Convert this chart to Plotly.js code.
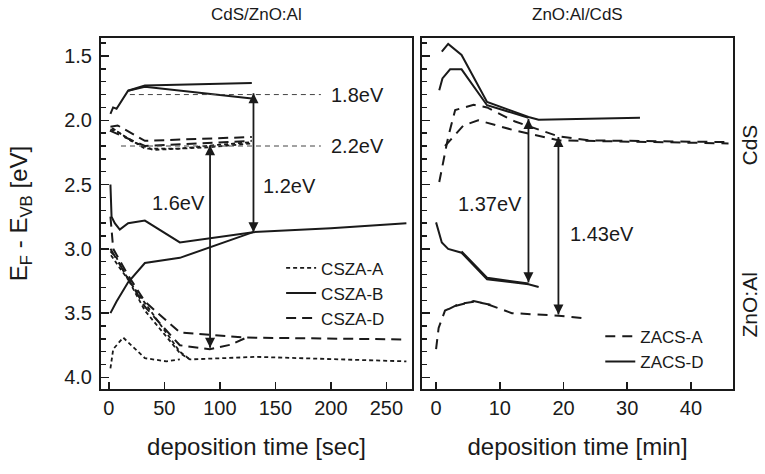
<!DOCTYPE html>
<html>
<head>
<meta charset="utf-8">
<script src="https://cdn.plot.ly/plotly-3.0.1.min.js"></script>
<style>html,body{margin:0;padding:0;background:#fff;}#chart{width:765px;height:474px;}</style>
</head>
<body>
<div id="chart"></div>
<script>
// ---------- Left panel: CdS/ZnO:Al, deposition time [sec] ----------
const cszaA_up1_x = [1.5, 8, 32.5, 64, 100, 129];
const cszaA_up1_y = [2.07, 2.09, 2.22, 2.22, 2.19, 2.17];
const cszaA_up2_x = [3, 20, 40, 90, 129];
const cszaA_up2_y = [2.06, 2.16, 2.23, 2.21, 2.18];
const cszaA_lo1_x = [1.5, 7, 32.5, 64, 73, 133, 268];
const cszaA_lo1_y = [3.02, 3.07, 3.48, 3.81, 3.86, 3.84, 3.875];
const cszaA_lo2_x = [1.5, 4, 13, 32.5, 52, 64];
const cszaA_lo2_y = [3.93, 3.78, 3.69, 3.85, 3.875, 3.86];
const cszaA_lo3_x = [2, 10, 32.5, 64, 73];
const cszaA_lo3_y = [3.05, 3.15, 3.42, 3.80, 3.86];

const cszaB_up1_x = [1.5, 3.9, 7, 17.4, 32.5, 128.8];
const cszaB_up1_y = [1.95, 1.90, 1.91, 1.77, 1.73, 1.71];
const cszaB_up2_x = [17.4, 32.5, 128.8];
const cszaB_up2_y = [1.77, 1.74, 1.83];
const cszaB_lo1_x = [1.5, 2.5, 5.4, 9.9, 17.4, 32.5, 64, 130, 200, 268];
const cszaB_lo1_y = [2.50, 2.75, 2.80, 2.85, 2.80, 2.78, 2.95, 2.87, 2.84, 2.80];
const cszaB_lo2_x = [1.5, 7, 17.4, 32.5, 64, 130];
const cszaB_lo2_y = [3.50, 3.41, 3.26, 3.11, 3.07, 2.87];

const cszaD_up1_x = [1.5, 8, 32.5, 128.8];
const cszaD_up1_y = [2.05, 2.04, 2.16, 2.13];
const cszaD_up2_x = [1, 32.5, 128.8];
const cszaD_up2_y = [2.08, 2.20, 2.16];
const cszaD_lo1_x = [1.5, 4, 17, 32.5, 64, 91, 124, 268];
const cszaD_lo1_y = [2.75, 3.0, 3.2, 3.41, 3.65, 3.67, 3.69, 3.705];
const cszaD_lo2_x = [1.5, 32.5, 64, 91, 110, 124];
const cszaD_lo2_y = [3.0, 3.45, 3.75, 3.78, 3.745, 3.69];

// ---------- Right panel: ZnO:Al/CdS, deposition time [min] ----------
const zacsA_up1_x = [0.5, 1.9, 3.0, 5.9, 8, 12.4, 19.2, 23.9, 45.9];
const zacsA_up1_y = [2.48, 2.13, 1.92, 1.88, 1.90, 2.01, 2.125, 2.156, 2.17];
const zacsA_up2_x = [1.4, 4.3, 6.6, 12.4, 19.2, 45.9];
const zacsA_up2_y = [2.20, 2.04, 2.00, 2.08, 2.156, 2.18];
const zacsA_lo1_x = [0, 0.4, 1.4, 3.0, 5.9, 8, 11.9, 19.2, 23.4];
const zacsA_lo1_y = [3.78, 3.615, 3.48, 3.445, 3.406, 3.43, 3.50, 3.52, 3.54];
const zacsA_lo2_x = [1.9, 3.5, 6, 9];
const zacsA_lo2_y = [3.47, 3.43, 3.41, 3.44];

const zacsD_up1_x = [0.9, 1.9, 4.0, 8.0, 14.5, 16.1, 32];
const zacsD_up1_y = [1.466, 1.406, 1.492, 1.857, 1.974, 1.995, 1.98];
const zacsD_up2_x = [0.5, 1.0, 2.2, 4.0, 8.0, 14.5];
const zacsD_up2_y = [1.766, 1.674, 1.604, 1.604, 1.883, 1.98];
const zacsD_lo1_x = [0, 0.9, 1.9, 4.0, 8.0, 14.5, 16.1];
const zacsD_lo1_y = [2.794, 2.95, 3.00, 3.03, 3.237, 3.276, 3.297];
const zacsD_lo2_x = [4.0, 8.0, 14.5];
const zacsD_lo2_y = [3.02, 3.225, 3.27];

// ---------- Annotation values ----------
const seriesNames = ['CSZA-A', 'CSZA-B', 'CSZA-D', 'ZACS-A', 'ZACS-D'];
const xTitles = ['deposition time [sec]', 'deposition time [min]'];
const panelTitles = ['CdS/ZnO:Al', 'ZnO:Al/CdS'];
const refLevels = [1.8, 2.2];
const refLabels = ['1.8eV', '2.2eV'];
const gapLabels = ['1.6eV', '1.2eV', '1.37eV', '1.43eV'];
const gapArrowX = [91.2, 130.3, 14.5, 19.2];
const gapArrowTop = [2.195, 1.79, 1.99, 2.13];
const gapArrowBottom = [3.77, 2.87, 3.26, 3.51];
const gapArrowPanel = [1, 1, 2, 2];
const gapLabelX = [62.5, 163, 8.5, 26.1];
const gapLabelY = [2.64, 2.51, 2.65, 2.885];

const FONT = '"Liberation Sans Narrow", "Liberation Sans", Arial, sans-serif';
const INK = '#1a1a1a';
const styles = {
  'CSZA-A': {dash: '4px,3px', width: 1.8},
  'CSZA-B': {dash: 'solid', width: 2},
  'CSZA-D': {dash: '10px,6px', width: 2},
  'ZACS-A': {dash: '10px,7px', width: 2},
  'ZACS-D': {dash: 'solid', width: 2}
};

const traces = [];
function seg(name, xs, ys, panel, show) {
  const st = styles[name];
  traces.push({
    type: 'scatter', mode: 'lines', name: name, x: xs, y: ys,
    xaxis: panel === 1 ? 'x' : 'x2', yaxis: panel === 1 ? 'y' : 'y2',
    legend: panel === 1 ? 'legend' : 'legend2',
    legendgroup: name, showlegend: !!show,
    line: {color: INK, width: st.width, dash: st.dash}
  });
}
seg(seriesNames[0], cszaA_up1_x, cszaA_up1_y, 1, true);
seg(seriesNames[1], cszaB_up1_x, cszaB_up1_y, 1, true);
seg(seriesNames[2], cszaD_up1_x, cszaD_up1_y, 1, true);
seg(seriesNames[0], cszaA_up2_x, cszaA_up2_y, 1);
seg(seriesNames[0], cszaA_lo1_x, cszaA_lo1_y, 1);
seg(seriesNames[0], cszaA_lo2_x, cszaA_lo2_y, 1);
seg(seriesNames[0], cszaA_lo3_x, cszaA_lo3_y, 1);
seg(seriesNames[1], cszaB_up2_x, cszaB_up2_y, 1);
seg(seriesNames[1], cszaB_lo1_x, cszaB_lo1_y, 1);
seg(seriesNames[1], cszaB_lo2_x, cszaB_lo2_y, 1);
seg(seriesNames[2], cszaD_up2_x, cszaD_up2_y, 1);
seg(seriesNames[2], cszaD_lo1_x, cszaD_lo1_y, 1);
seg(seriesNames[2], cszaD_lo2_x, cszaD_lo2_y, 1);

seg(seriesNames[3], zacsA_up1_x, zacsA_up1_y, 2, true);
seg(seriesNames[4], zacsD_up1_x, zacsD_up1_y, 2, true);
seg(seriesNames[3], zacsA_up2_x, zacsA_up2_y, 2);
seg(seriesNames[3], zacsA_lo1_x, zacsA_lo1_y, 2);
seg(seriesNames[3], zacsA_lo2_x, zacsA_lo2_y, 2);
seg(seriesNames[4], zacsD_up2_x, zacsD_up2_y, 2);
seg(seriesNames[4], zacsD_lo1_x, zacsD_lo1_y, 2);
seg(seriesNames[4], zacsD_lo2_x, zacsD_lo2_y, 2);

// double-headed gap arrows: a line with arrow-shaped markers at both ends
for (let i = 0; i < gapArrowX.length; i++) {
  const p = gapArrowPanel[i];
  traces.push({
    type: 'scatter', mode: 'lines+markers', showlegend: false, hoverinfo: 'skip',
    x: [gapArrowX[i], gapArrowX[i]], y: [gapArrowTop[i], gapArrowBottom[i]],
    xaxis: p === 1 ? 'x' : 'x2', yaxis: p === 1 ? 'y' : 'y2',
    line: {color: INK, width: 1.8},
    marker: {symbol: ['arrow-up', 'arrow-down'], size: 10, color: INK, line: {width: 0}}
  });
}

function label(xr, yr, x, y, t) {
  return {xref: xr, yref: yr, x: x, y: y, text: t, showarrow: false, xanchor: 'center', yanchor: 'middle',
    font: {family: FONT, size: 20, color: INK}};
}

const annotations = [];
for (let i = 0; i < gapLabels.length; i++) {
  const p = gapArrowPanel[i];
  annotations.push(label(p === 1 ? 'x' : 'x2', p === 1 ? 'y' : 'y2', gapLabelX[i], gapLabelY[i], gapLabels[i]));
}
annotations.push(label('x', 'y', 224, refLevels[0], refLabels[0]));
annotations.push(label('x', 'y', 224, refLevels[1], refLabels[1]));
annotations.push(
  {xref: 'paper', yref: 'paper', x: 0.246, y: 1.068, xanchor: 'center', yanchor: 'middle', text: panelTitles[0], showarrow: false,
    font: {family: FONT, size: 17, color: INK}},
  {xref: 'paper', yref: 'paper', x: 0.754, y: 1.068, xanchor: 'center', yanchor: 'middle', text: panelTitles[1], showarrow: false,
    font: {family: FONT, size: 17, color: INK}},
  {xref: 'paper', yref: 'paper', x: 1.026, y: 0.695, xanchor: 'center', yanchor: 'middle', text: 'CdS', textangle: -90, showarrow: false,
    font: {family: FONT, size: 21, color: INK}},
  {xref: 'paper', yref: 'paper', x: 1.026, y: 0.239, xanchor: 'center', yanchor: 'middle', text: 'ZnO:Al', textangle: -90, showarrow: false,
    font: {family: FONT, size: 21, color: INK}}
);

const shapes = [
  {type: 'line', xref: 'x', yref: 'y', x0: 19, x1: 191, y0: refLevels[0], y1: refLevels[0],
    line: {color: '#444', width: 1, dash: '5px,4px'}},
  {type: 'line', xref: 'x', yref: 'y', x0: 11, x1: 191, y0: refLevels[1], y1: refLevels[1],
    line: {color: '#444', width: 1, dash: '5px,4px'}}
];

const axisCommon = {
  showline: true, linewidth: 2, linecolor: INK, mirror: true,
  ticks: 'inside', tickcolor: INK, tickwidth: 1.5, showgrid: false, zeroline: false,
  tickfont: {family: FONT, size: 20, color: INK}
};
const yCommon = Object.assign({}, axisCommon, {
  range: [4.09, 1.36], tick0: 1.5, dtick: 0.5, tickformat: '.1f', ticklen: 8,
  minor: {dtick: 0.1, tick0: 1.5, ticks: 'inside', ticklen: 5, tickwidth: 1.5, tickcolor: INK, showgrid: false}
});

const layout = {
  width: 765, height: 474,
  margin: {l: 101, r: 32, t: 38, b: 85},
  paper_bgcolor: '#fff', plot_bgcolor: '#fff',
  font: {family: FONT, color: INK},
  xaxis: Object.assign({}, axisCommon, {domain: [0, 0.492], range: [-7, 273], tick0: 0, dtick: 50, ticklen: 7,
    anchor: 'y', title: {text: xTitles[0], font: {family: FONT, size: 24, color: INK}, standoff: 20}}),
  xaxis2: Object.assign({}, axisCommon, {domain: [0.508, 1], range: [-2.2, 46.6], tick0: 0, dtick: 10, ticklen: 7,
    anchor: 'y2', title: {text: xTitles[1], font: {family: FONT, size: 24, color: INK}, standoff: 20}}),
  yaxis: Object.assign({}, yCommon, {anchor: 'x', ticklabelstandoff: 3,
    title: {text: 'E<sub>F</sub> - E<sub>VB</sub> [eV]', font: {family: FONT, size: 24, color: INK}, standoff: 30}}),
  yaxis2: Object.assign({}, yCommon, {anchor: 'x2', matches: 'y', showticklabels: false}),
  legend: {x: 0.285, y: 0.395, xanchor: 'left', yanchor: 'top', bgcolor: 'rgba(0,0,0,0)',
    font: {family: FONT, size: 17, color: INK}, itemwidth: 30, tracegroupgap: 0},
  legend2: {x: 0.79, y: 0.2, xanchor: 'left', yanchor: 'top', bgcolor: 'rgba(0,0,0,0)',
    font: {family: FONT, size: 17, color: INK}, itemwidth: 30, tracegroupgap: 0},
  annotations: annotations,
  shapes: shapes
};

Plotly.newPlot('chart', traces, layout, {staticPlot: true, displayModeBar: false});
</script>
</body>
</html>
